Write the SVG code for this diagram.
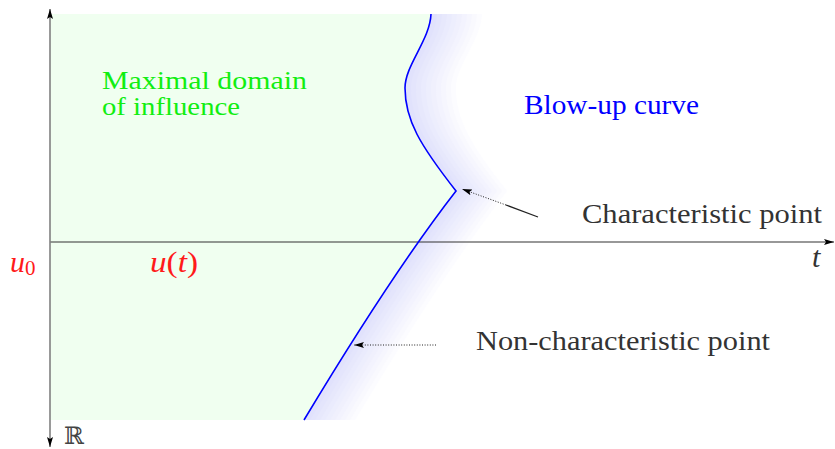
<svg xmlns="http://www.w3.org/2000/svg" xmlns:xlink="http://www.w3.org/1999/xlink" width="835" height="449" viewBox="0 0 835 449">
<style>
text{font-family:"Liberation Serif","DejaVu Serif",serif;}
.math{font-style:italic;}
.gray{fill:#333333;}
.red{fill:#ff1a1a;}
.green{fill:#11ee11;}
.dotted{fill:none;stroke:#222;stroke-width:1;stroke-dasharray:1 1.6;}
</style>
<defs>
<marker id="ah" viewBox="0 0 10 6" refX="10" refY="3" markerWidth="10" markerHeight="6" markerUnits="userSpaceOnUse" orient="auto-start-reverse">
<path d="M0,0 L10,3 L0,6 L2,3 Z" fill="#000"/>
</marker>
<path id="band" d="M431,14 C430,40 405,65 405,88 C405,120 420,145 456,191 Q393,272 304,420 L310,420 Q399,272 462,191 C426,145 411,120 411,88 C411,65 436,40 437,14 Z"/>
</defs>
<rect width="835" height="449" fill="#ffffff"/>
<g id="shading">
<use xlink:href="#band" transform="translate(45,0)" fill="#fcfcff"/>
<use xlink:href="#band" transform="translate(40,0)" fill="#f9f9fe"/>
<use xlink:href="#band" transform="translate(35,0)" fill="#f6f6fe"/>
<use xlink:href="#band" transform="translate(30,0)" fill="#f3f3fe"/>
<use xlink:href="#band" transform="translate(25,0)" fill="#f0f0fd"/>
<use xlink:href="#band" transform="translate(20,0)" fill="#edeefd"/>
<use xlink:href="#band" transform="translate(15,0)" fill="#eaebfd"/>
<use xlink:href="#band" transform="translate(10,0)" fill="#e7e8fc"/>
<use xlink:href="#band" transform="translate(5,0)" fill="#e4e5fc"/>
<use xlink:href="#band" transform="translate(0,0)" fill="#e1e2fc"/>
</g>
<g id="domain">
<path d="M50,14 L431,14 C430,40 405,65 405,88 C405,120 420,145 456,191 Q393,272 304,420 L50,420 Z" fill="#f0fff0"/>
</g>
<g id="axes">
<line x1="50" y1="242" x2="834" y2="242" stroke="#333" stroke-width="1.2" marker-end="url(#ah)"/>
<line x1="50" y1="447" x2="50" y2="9" stroke="#808080" stroke-width="1.6" marker-start="url(#ah)" marker-end="url(#ah)"/>
</g>
<g id="blowup-curve">
<path d="M431,14 C430,40 405,65 405,88 C405,120 420,145 456,191 Q393,272 304,420" fill="none" stroke="#0000ff" stroke-width="1.6"/>
</g>
<g id="connectors">
<line x1="538" y1="217" x2="506" y2="205" stroke="#222" stroke-width="1.2"/>
<path class="dotted" d="M506,205 L462,189" marker-end="url(#ah)"/>
<path class="dotted" d="M436,345 L354,345" marker-end="url(#ah)"/>
</g>
<g id="label-domain">
<text class="green" x="102" y="89" font-size="26" font-family="Liberation Serif, serif" textLength="205" lengthAdjust="spacingAndGlyphs">Maximal domain</text>
<text class="green" x="102" y="115" font-size="26" font-family="Liberation Serif, serif" textLength="138" lengthAdjust="spacingAndGlyphs">of influence</text>
</g>
<g id="label-blowup">
<text x="524" y="114" font-size="28" fill="#0000ff" font-family="Liberation Serif, serif" textLength="175" lengthAdjust="spacingAndGlyphs">Blow-up curve</text>
</g>
<g id="label-characteristic">
<text class="gray" x="582" y="223" font-size="28" font-family="Liberation Serif, serif" textLength="240" lengthAdjust="spacingAndGlyphs">Characteristic point</text>
</g>
<g id="label-noncharacteristic">
<text class="gray" x="476" y="350" font-size="28" font-family="Liberation Serif, serif" textLength="294" lengthAdjust="spacingAndGlyphs">Non-characteristic point</text>
</g>
<g id="label-t">
<text class="math gray" x="812" y="267" font-size="30" font-family="Liberation Serif, serif">t</text>
</g>
<g id="label-u0">
<text class="math red" x="10" y="272" font-size="30" font-family="Liberation Serif, serif">u<tspan font-style="normal" font-size="21" dy="3">0</tspan></text>
</g>
<g id="label-ut">
<text class="math red" x="150" y="272" font-size="30" font-family="Liberation Serif, serif" textLength="48" lengthAdjust="spacingAndGlyphs">u<tspan font-style="normal">(</tspan>t<tspan font-style="normal">)</tspan></text>
</g>
<g id="label-R">
<text x="64" y="444" font-size="24" fill="#444" font-family="DejaVu Serif, serif">ℝ</text>
</g>
</svg>
